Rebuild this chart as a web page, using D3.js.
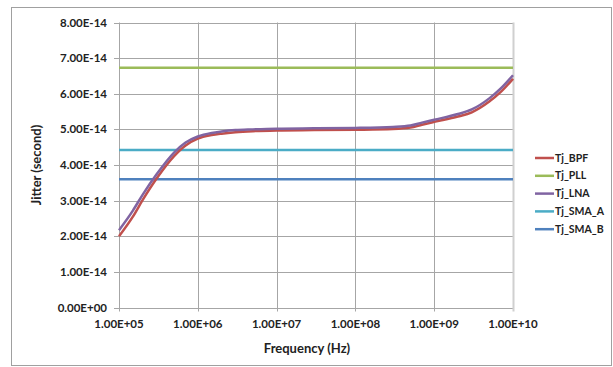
<!DOCTYPE html>
<html>
<head>
<meta charset="utf-8">
<script src="https://cdn.jsdelivr.net/npm/d3@7"></script>
<style>
  body { margin: 0; background: #fff; }
  text { font-family: Lato, "Open Sans", sans-serif; font-weight: bold; fill: #222; }
</style>
</head>
<body>
<div id="chart"></div>
<script>
// frequencies (Hz) at which the jitter curves were read
const freqs = [1e5, 1.5e5, 2e5, 3e5, 5e5, 7e5, 1e6, 1.5e6, 2e6, 3e6, 5e6, 1e7,
               3e7, 1e8, 3e8, 5e8, 7e8, 1e9, 2e9, 3e9, 5e9, 7e9, 1e10];

// jitter in units of 1e-14 s
const tjBPF = [2.00, 2.55, 3.02, 3.62, 4.25, 4.55, 4.74, 4.84, 4.88, 4.92, 4.95, 4.97,
               4.98, 4.99, 5.01, 5.05, 5.13, 5.21, 5.36, 5.48, 5.78, 6.05, 6.42];
const tjLNA = [2.17, 2.72, 3.17, 3.74, 4.35, 4.63, 4.80, 4.90, 4.94, 4.98, 5.00, 5.02,
               5.03, 5.04, 5.07, 5.11, 5.19, 5.27, 5.43, 5.56, 5.87, 6.15, 6.52];
const tjPLL = 6.73;
const tjSMA_A = 4.42;
const tjSMA_B = 3.60;

const seriesNames = ['Tj_BPF', 'Tj_PLL', 'Tj_LNA', 'Tj_SMA_A', 'Tj_SMA_B'];
const seriesColors = ['#C0504D', '#9BBB59', '#8064A2', '#4BACC6', '#4F81BD'];

const xTicks = [1e5, 1e6, 1e7, 1e8, 1e9, 1e10];
const yTicks = [0, 1, 2, 3, 4, 5, 6, 7, 8];

const width = 613, height = 367;
const margin = {top: 22.5, right: 100, bottom: 59.5, left: 119};

const svg = d3.select('#chart').append('svg')
    .attr('width', width)
    .attr('height', height);

// outer chart border
svg.append('rect')
    .attr('x', 11.5).attr('y', 7.5)
    .attr('width', 600).attr('height', 358)
    .attr('fill', 'none')
    .attr('stroke', '#a0a0a0');

const x = d3.scaleLog()
    .domain([1e5, 1e10])
    .range([margin.left, width - margin.right]);
const y = d3.scaleLinear()
    .domain([0, 8])
    .range([height - margin.bottom, margin.top]);

// gridlines
svg.append('g').selectAll('line.h')
    .data(yTicks)
    .join('line')
    .attr('x1', x(1e5) - 5).attr('x2', x(1e10))
    .attr('y1', d => Math.round(y(d)) + 0.5).attr('y2', d => Math.round(y(d)) + 0.5)
    .attr('stroke', '#a6a6a6').attr('stroke-width', 1);

svg.append('g').selectAll('line.v')
    .data(xTicks)
    .join('line')
    .attr('x1', d => Math.round(x(d)) + 0.5).attr('x2', d => Math.round(x(d)) + 0.5)
    .attr('y1', y(8)).attr('y2', y(0) + 4)
    .attr('stroke', (d, i) => i === xTicks.length - 1 ? '#d0d0d0' : '#a6a6a6')
    .attr('stroke-width', (d, i) => i === xTicks.length - 1 ? 2 : 1);

// y tick labels
svg.append('g').selectAll('text')
    .data(yTicks)
    .join('text')
    .attr('x', 107)
    .attr('y', d => y(d))
    .attr('dy', '0.35em')
    .attr('text-anchor', 'end')
    .style('font-size', '11.5px')
    .text(d => d === 0 ? '0.00E+00' : d.toFixed(2) + 'E-14');

// x tick labels
svg.append('g').selectAll('text')
    .data(xTicks)
    .join('text')
    .attr('x', d => x(d))
    .attr('y', 324)
    .attr('dy', '0.35em')
    .attr('text-anchor', 'middle')
    .style('font-size', '11.5px')
    .text(d => '1.00E+' + String(Math.round(Math.log10(d))).padStart(2, '0'));

// axis titles
svg.append('text')
    .attr('x', 307).attr('y', 348)
    .attr('dy', '0.35em')
    .attr('text-anchor', 'middle')
    .style('font-size', '13px')
    .text('Frequency (Hz)');

svg.append('text')
    .attr('transform', 'translate(36,165) rotate(-90)')
    .attr('dy', '0.35em')
    .attr('text-anchor', 'middle')
    .style('font-size', '13px')
    .text('Jitter (second)');

// series
const series = [
    freqs.map((f, i) => [f, tjBPF[i]]),
    xTicks.map(f => [f, tjPLL]),
    freqs.map((f, i) => [f, tjLNA[i]]),
    xTicks.map(f => [f, tjSMA_A]),
    xTicks.map(f => [f, tjSMA_B])
];

const line = d3.line()
    .x(d => x(d[0]))
    .y(d => y(d[1]))
    .curve(d3.curveMonotoneX);

const drawOrder = [3, 4, 1, 0, 2];
svg.append('g').selectAll('path')
    .data(drawOrder)
    .join('path')
    .attr('d', i => line(series[i]))
    .attr('fill', 'none')
    .attr('stroke', i => seriesColors[i])
    .attr('stroke-width', 2.5);

// legend
const legend = svg.append('g').selectAll('g')
    .data(seriesNames)
    .join('g')
    .attr('transform', (d, i) => `translate(535,${158 + i * 17.8})`);

legend.append('line')
    .attr('x1', 0).attr('x2', 19)
    .attr('stroke', (d, i) => seriesColors[i])
    .attr('stroke-width', 2.5);

legend.append('text')
    .attr('x', 20)
    .attr('dy', '0.35em')
    .style('font-size', '10.5px')
    .text(d => d);
</script>
</body>
</html>
